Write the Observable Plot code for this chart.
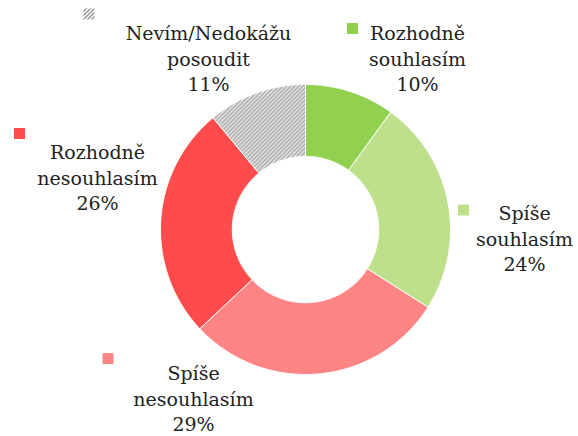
<!DOCTYPE html>
<html><head><meta charset="utf-8">
<script src="https://cdn.jsdelivr.net/npm/d3@7"></script>
<script src="https://cdn.jsdelivr.net/npm/@observablehq/plot@0.6"></script>
<style>html,body{margin:0;padding:0;background:#fff}</style>
</head><body><div id="chart"></div>
<script>
// ---- data ----
const categories = ["Rozhodně souhlasím", "Spíše souhlasím", "Spíše nesouhlasím", "Rozhodně nesouhlasím", "Nevím/Nedokážu posoudit"];
const values = [10, 24, 29, 26, 11];
const labelLines = [["Rozhodně", "souhlasím"], ["Spíše", "souhlasím"], ["Spíše", "nesouhlasím"], ["Rozhodně", "nesouhlasím"], ["Nevím/Nedokážu", "posoudit"]];
const percentLabels = ["10%", "24%", "29%", "26%", "11%"];

// ---- styles / layout ----
const colors = ["#92d050", "#bfe08b", "#ff8484", "#ff4b4b", "url(#hatch)"];
const W = 578, H = 436, CX = 305, CY = 229, R = 145, INNER = 0.505;
// label block centres and legend-square centres (pixels)
const labelPx = [[417, 57], [524, 237], [193, 397], [97, 176], [208, 57]];
const markerPx = [[352, 28], [463, 209.5], [107.5, 358], [19, 133], [88.5, 13.5]];
const ux = px => (px - CX) / R, uy = py => (CY - py) / R;

// ---- geometry from values ----
const arcs = d3.pie().sort(null).value(d => d)(values);
const sliceMarks = arcs.map((a, i) => {
  const n = 120, pts = [];
  for (let k = 0; k <= n; k++) { const t = a.startAngle + (a.endAngle - a.startAngle) * k / n; pts.push({x: Math.sin(t), y: Math.cos(t)}); }
  for (let k = n; k >= 0; k--) { const t = a.startAngle + (a.endAngle - a.startAngle) * k / n; pts.push({x: INNER * Math.sin(t), y: INNER * Math.cos(t)}); }
  pts.push(pts[0]);
  return Plot.line(pts, {x: "x", y: "y", fill: colors[i], stroke: "white", strokeWidth: 1, curve: "linear"});
});

const labelData = categories.map((c, i) => ({
  text: labelLines[i].join("\n") + "\n" + percentLabels[i],
  x: ux(labelPx[i][0]), y: uy(labelPx[i][1]),
  mx: ux(markerPx[i][0]), my: uy(markerPx[i][1]), fill: colors[i]
}));

const chart = Plot.plot({
  width: W, height: H,
  margin: 0,
  x: {domain: [ux(0), ux(W)], axis: null},
  y: {domain: [uy(H), uy(0)], axis: null},
  marks: [
    ...sliceMarks,
    Plot.dot(labelData, {x: "mx", y: "my", symbol: "square", r: 6.2, fill: d => d.fill, stroke: "none"}),
    Plot.text(labelData, {x: "x", y: "y", text: "text", lineAnchor: "middle", lineHeight: 1.34,
      fontFamily: "DejaVu Serif", fontSize: 19, fill: "#222", textAnchor: "middle"})
  ]
});
const defs = d3.select(chart).insert("defs", ":first-child");
const pat = defs.append("pattern").attr("id", "hatch").attr("patternUnits", "userSpaceOnUse")
  .attr("width", 4).attr("height", 4);
pat.append("rect").attr("width", 4).attr("height", 4).attr("fill", "white");
pat.append("path").attr("d", "M-1,1 l2,-2 M0,4 l4,-4 M3,5 l2,-2").attr("stroke", "#8c8c8c").attr("stroke-width", 1.3);
document.getElementById("chart").appendChild(chart);
</script>
</body></html>
